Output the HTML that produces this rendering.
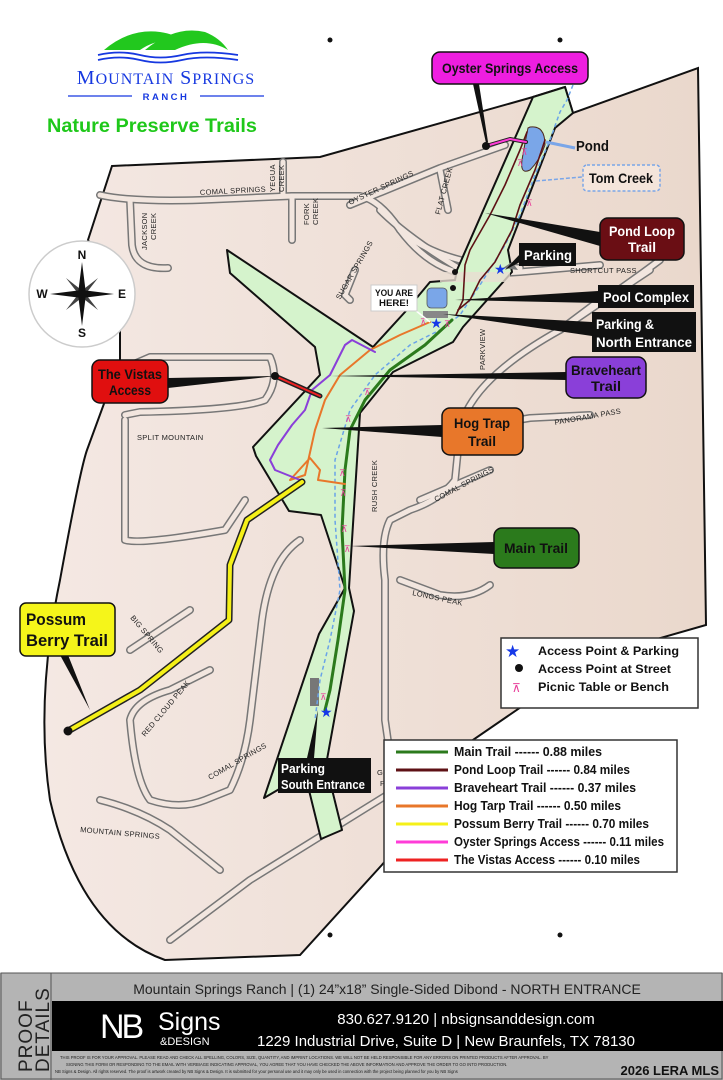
<!DOCTYPE html>
<html><head><meta charset="utf-8"><style>
html,body{margin:0;padding:0;background:#fff;}
svg{display:block;}
.n{font-family:"Liberation Sans Narrow","Liberation Sans",sans-serif;font-weight:bold;}
.s{font-family:"Liberation Sans",sans-serif;}
.rd{font-family:"Liberation Sans",sans-serif;font-size:7.5px;fill:#222;letter-spacing:.3px;}
</style></head><body>
<svg width="723" height="1080" viewBox="0 0 723 1080" xmlns="http://www.w3.org/2000/svg">
<defs>
<linearGradient id="tan" x1="0" x2="1" y1="0" y2="0">
<stop offset="0" stop-color="#f4e8e3"/><stop offset="1" stop-color="#ead8cc"/></linearGradient>
</defs>
<rect width="723" height="1080" fill="#fff"/>
<!-- logo -->
<path d="M104 50 Q130 28 160 32 Q175 34 185 42 Q160 36 140 50 Z" fill="#22c81e"/>
<path d="M145 50 Q175 25 205 32 Q220 38 228 50 Q205 36 175 50 Z" fill="#22c81e"/>
<path d="M98 55 Q120 50 140 55 T182 55 T238 55" stroke="#1638e0" stroke-width="1.8" fill="none"/>
<path d="M98 60 Q120 55 140 60 T182 60 T238 60" stroke="#1638e0" stroke-width="1.8" fill="none"/>
<text x="166" y="84" text-anchor="middle" font-family="Liberation Serif,serif" font-size="20" fill="#1638e0" letter-spacing="1">M<tspan font-size="16">OUNTAIN</tspan> S<tspan font-size="16">PRINGS</tspan></text>
<line x1="68" y1="96" x2="132" y2="96" stroke="#1638e0" stroke-width="1.2"/>
<line x1="200" y1="96" x2="264" y2="96" stroke="#1638e0" stroke-width="1.2"/>
<text x="166" y="100" text-anchor="middle" class="s" font-weight="bold" font-size="9.5" fill="#1638e0" letter-spacing="2.5">RANCH</text>
<text x="152" y="132" text-anchor="middle" class="s" font-weight="bold" font-size="19" fill="#1fc81a" textLength="210" lengthAdjust="spacingAndGlyphs">Nature Preserve Trails</text>
<circle cx="330" cy="40" r="2.5" fill="#111"/><circle cx="560" cy="40" r="2.5" fill="#111"/>
<circle cx="330" cy="935" r="2.5" fill="#111"/><circle cx="560" cy="935" r="2.5" fill="#111"/>
<!-- tan area -->
<path d="M112 166 L320 157 L533 97 L565 87 L573 113 L698 68 L706 625 L594 657 L400 790 L400 845 L300 955 L165 960 Q80 930 50 800 Q35 700 60 580 Q80 470 87 450 L120 360 L120 300 L88 240 Z" fill="url(#tan)" stroke="#111" stroke-width="2"/>
<!-- roads -->
<g fill="none" stroke-linecap="round" stroke-linejoin="round">
<g stroke="#777" stroke-width="8">
<path d="M100 195 Q130 202 200 200 L292 196 L360 196 Q380 200 400 230 Q430 270 470 275 L520 272 L600 265"/>
<path d="M292 196 L292 240"/><path d="M283 162 L283 195"/><path d="M130 200 L132 245 Q135 270 168 268"/>
<path d="M350 205 L440 168 L505 145"/><path d="M440 170 L448 210"/><path d="M380 210 Q410 240 470 275"/>
<path d="M355 270 L345 295 L350 300"/>
<path d="M120 370 L150 357 L270 357 Q280 380 265 400 Q240 410 140 412 L125 415"/>
<path d="M125 420 L125 540 Q140 545 225 530 L245 500"/>
<path d="M660 260 Q620 290 560 330 Q470 380 460 430 L455 480 Q440 500 410 510 L390 520 Q380 540 385 580 L385 720 L395 790"/>
<path d="M560 330 L600 300"/><path d="M620 290 L650 270"/>
<path d="M460 430 L530 418 L590 415"/>
<path d="M420 500 L490 470"/>
<path d="M400 580 L440 595 Q470 600 490 585"/>
<path d="M395 790 L250 880 L170 940"/>
<path d="M300 540 Q270 560 262 620 L250 720 Q245 760 230 790 L205 800 Q180 810 150 800 Q135 780 130 720 Q135 700 170 690 L210 670"/>
<path d="M130 650 L190 610"/>
<path d="M400 230 Q440 265 520 268"/>
<path d="M100 800 Q140 810 170 830 L220 870"/>
</g>
<g stroke="#f2e6df" stroke-width="5">
<path d="M100 195 Q130 202 200 200 L292 196 L360 196 Q380 200 400 230 Q430 270 470 275 L520 272 L600 265"/>
<path d="M292 196 L292 240"/><path d="M283 162 L283 195"/><path d="M130 200 L132 245 Q135 270 168 268"/>
<path d="M350 205 L440 168 L505 145"/><path d="M440 170 L448 210"/><path d="M380 210 Q410 240 470 275"/>
<path d="M355 270 L345 295 L350 300"/>
<path d="M120 370 L150 357 L270 357 Q280 380 265 400 Q240 410 140 412 L125 415"/>
<path d="M125 420 L125 540 Q140 545 225 530 L245 500"/>
<path d="M660 260 Q620 290 560 330 Q470 380 460 430 L455 480 Q440 500 410 510 L390 520 Q380 540 385 580 L385 720 L395 790"/>
<path d="M560 330 L600 300"/><path d="M620 290 L650 270"/>
<path d="M460 430 L530 418 L590 415"/>
<path d="M420 500 L490 470"/>
<path d="M400 580 L440 595 Q470 600 490 585"/>
<path d="M395 790 L250 880 L170 940"/>
<path d="M300 540 Q270 560 262 620 L250 720 Q245 760 230 790 L205 800 Q180 810 150 800 Q135 780 130 720 Q135 700 170 690 L210 670"/>
<path d="M130 650 L190 610"/>
<path d="M400 230 Q440 265 520 268"/>
<path d="M100 800 Q140 810 170 830 L220 870"/>
</g>
</g>
<!-- road labels -->
<text class="rd" x="200" y="195" transform="rotate(-3 200 195)">COMAL SPRINGS</text>
<text class="rd" x="350" y="205" transform="rotate(-25 350 205)">OYSTER SPRINGS</text>
<text class="rd" x="570" y="273">SHORTCUT PASS</text>
<text class="rd" x="137" y="440">SPLIT MOUNTAIN</text>
<text class="rd" x="555" y="425" transform="rotate(-10 555 425)">PANORAMA PASS</text>
<text class="rd" x="436" y="502" transform="rotate(-28 436 502)">COMAL SPRINGS</text>
<text class="rd" x="412" y="595" transform="rotate(12 412 595)">LONGS PEAK</text>
<text class="rd" x="377" y="775">GRAYS</text><text class="rd" x="380" y="786">PEAK</text>
<text class="rd" x="80" y="832" transform="rotate(5 80 832)">MOUNTAIN SPRINGS</text>
<text class="rd" x="210" y="780" transform="rotate(-30 210 780)">COMAL SPRINGS</text>
<text class="rd" x="145" y="737" transform="rotate(-50 145 737)">RED CLOUD PEAK</text>
<text class="rd" x="130" y="618" transform="rotate(50 130 618)">BIG SPRING</text>
<text class="rd" x="377" y="512" transform="rotate(-90 377 512)">RUSH CREEK</text>
<text class="rd" x="485" y="370" transform="rotate(-90 485 370)">PARKVIEW</text>
<text class="rd" x="340" y="300" transform="rotate(-60 340 300)">SUGAR SPRINGS</text>
<text class="rd" x="440" y="215" transform="rotate(-75 440 215)">FLAT CREEK</text>
<text class="rd" x="309" y="225" transform="rotate(-90 309 225)">FORK</text><text class="rd" x="318" y="225" transform="rotate(-90 318 225)">CREEK</text>
<text class="rd" x="275" y="192" transform="rotate(-90 275 192)">YEGUA</text><text class="rd" x="284" y="192" transform="rotate(-90 284 192)">CREEK</text>
<text class="rd" x="147" y="250" transform="rotate(-90 147 250)">JACKSON</text><text class="rd" x="156" y="240" transform="rotate(-90 156 240)">CREEK</text>
<!-- green preserve -->
<path d="M533 97 L565 87 L573 113 L555 128 L508 250 L512 272 L463 327 L453 342 L393 372 L360 413 L349 588 L354 611 L326 765 L342 830 L321 839 L305 774 L264 798 L319 634 L345 588 L321 515 L289 511 L256 456 L253 447 L320 375 L315 347 L230 273 L227 250 L373 347 L405 312 L430 282 L455 280 L457 270 Z" fill="#d5f3cc" stroke="#111" stroke-width="2" stroke-linejoin="round"/>
<rect x="440" y="272" width="70" height="10" fill="#e8ddd2" opacity=".8"/>
<!-- pond & pool -->
<path d="M530 127 Q545 125 545 145 Q540 160 530 170 Q520 175 522 160 Q524 148 528 128 Z" fill="#7aa6e8" stroke="#4d2a1d" stroke-width="1"/>
<rect x="427" y="288" width="20" height="20" rx="4" fill="#7aa6e8" stroke="#555" stroke-width=".8"/>
<rect x="423" y="311" width="25" height="7" fill="#888"/>
<rect x="310" y="678" width="9" height="28" fill="#777"/>
<path d="M503 268 L512 262 L518 270 Z" fill="#777"/>
<!-- creek -->
<path d="M573 85 L567 100 L560 112 L550 140 L535 175 L520 215 L505 245 L480 285 L460 315 L440 330 L410 345 L375 375 L350 410 L335 460 L335 520 L340 590 L330 640 L320 680 L315 720" fill="none" stroke="#6aa3e8" stroke-width="1.5" stroke-dasharray="4 3"/>
<!-- trails -->
<g fill="none" stroke-linejoin="round" stroke-linecap="round">
<path d="M527 132 L520 150 L505 185 L490 215 L470 250 L465 265 L463 300 L456 315" stroke="#5e1115" stroke-width="1.6"/>
<path d="M545 140 L535 170 L520 205 L512 230 L495 262 L480 280 L470 300 L458 310" stroke="#5e1115" stroke-width="1.6"/>
<path d="M452 320 L425 345 L390 370 L365 400 L350 430 L345 470 L342 530 L345 590 L338 640 L330 690 L325 710" stroke="#2b7a1c" stroke-width="3"/>
<path d="M430 322 L400 335 L370 350 L340 375 L325 400 L315 430 L305 475 L290 480 L310 458 L320 470 L318 480 L345 484" stroke="#e8772a" stroke-width="2"/>
<path d="M375 352 L352 340 L345 345 L330 375 L312 390 L305 410 L292 425 L278 445 L270 460 L275 470 L300 480" stroke="#8a3fd9" stroke-width="2"/>
<path d="M302 482 L247 520 L230 565 L229 620 L140 690 L68 731" stroke="#222" stroke-width="7"/>
<path d="M302 482 L247 520 L230 565 L229 620 L140 690 L68 731" stroke="#f5f018" stroke-width="4"/>
<path d="M275 376 L320 396" stroke="#222" stroke-width="5"/>
<path d="M275 376 L320 396" stroke="#ee2222" stroke-width="2"/>
<path d="M486 146 L510 139 L526 142" stroke="#222" stroke-width="4"/>
<path d="M486 146 L510 139 L526 142" stroke="#ff3cd8" stroke-width="2"/>
</g>
<circle cx="486" cy="146" r="4" fill="#111"/><circle cx="275" cy="376" r="4" fill="#111"/><circle cx="68" cy="731" r="4.5" fill="#111"/>
<circle cx="455" cy="272" r="3" fill="#111"/><circle cx="453" cy="288" r="3" fill="#111"/>
<g fill="#e8409a" font-size="9" class="s"><text x="521" y="155">⊼</text><text x="517" y="166">⊼</text><text x="526" y="206">⊼</text><text x="420" y="325">⊼</text><text x="444" y="327">⊼</text><text x="364" y="395">⊼</text><text x="345" y="422">⊼</text><text x="339" y="476">⊼</text><text x="340" y="496">⊼</text><text x="341" y="532">⊼</text><text x="344" y="552">⊼</text><text x="320" y="700">⊼</text></g>
<g fill="#1638e8" class="s" font-size="14"><text x="494" y="274">★</text><text x="430" y="328">★</text><text x="320" y="717">★</text></g>
<!-- leaders -->
<g fill="#111">
<path d="M473 84 L479 84 L488 142 L486 143 Z"/>
<path d="M600 232 L600 246 L485 213 Z"/>
<path d="M520 254 L520 262 L505 270 Z"/>
<path d="M598 291 L598 303 L455 300 Z"/>
<path d="M592 322 L592 336 L443 314 Z"/>
<path d="M566 372 L566 380 L330 376 Z"/>
<path d="M442 425 L442 437 L322 428 Z"/>
<path d="M494 542 L494 554 L350 546 Z"/>
<path d="M168 378 L168 388 L276 376 Z"/>
<path d="M60 655 L68 655 L90 710 Z"/>
<path d="M307 758 L314 758 L318 710 Z"/>
</g>
<path d="M546 142 L575 148" stroke="#7aa6e8" stroke-width="3"/>
<path d="M536 181 L582 177" stroke="#7aa6e8" stroke-width="1.5" stroke-dasharray="4 2"/>
<line x1="410" y1="306" x2="430" y2="322" stroke="#fff" stroke-width="1.5"/>
<!-- compass -->
<circle cx="82" cy="294" r="53" fill="#fff" stroke="#ccc" stroke-width="1.5"/>
<g fill="#111"><path d="M82 262 L86 294 L82 326 L78 294 Z"/><path d="M50 294 L82 290 L114 294 L82 298 Z"/>
<path d="M66 278 L84 292 L98 310 L80 296 Z" opacity=".8"/><path d="M98 278 L84 296 L66 310 L80 292 Z" opacity=".8"/></g>
<g class="s" font-weight="bold" font-size="12" fill="#111" text-anchor="middle"><text x="82" y="259">N</text><text x="82" y="337">S</text><text x="42" y="298">W</text><text x="122" y="298">E</text></g>
<!-- callout boxes -->
<g class="n" font-size="14" text-anchor="middle" lengthAdjust="spacingAndGlyphs">
<rect x="432" y="52" width="156" height="32" rx="8" fill="#ee1ee0" stroke="#111" stroke-width="1.5"/><text x="510" y="73" fill="#111" textLength="136" lengthAdjust="spacingAndGlyphs">Oyster Springs Access</text>
<text x="576" y="151" text-anchor="start" fill="#111" font-size="15" textLength="33" lengthAdjust="spacingAndGlyphs">Pond</text>
<rect x="583" y="165" width="77" height="26" rx="4" fill="#f4e5db" stroke="#7aa6e8" stroke-width="1.5" stroke-dasharray="3 2"/><text x="621" y="183" fill="#111" textLength="64" lengthAdjust="spacingAndGlyphs">Tom Creek</text>
<rect x="600" y="218" width="84" height="42" rx="8" fill="#6a0e14" stroke="#111" stroke-width="1.5"/><text x="642" y="236" fill="#fff" textLength="66" lengthAdjust="spacingAndGlyphs">Pond Loop</text><text x="642" y="252" fill="#fff" textLength="28" lengthAdjust="spacingAndGlyphs">Trail</text>
<rect x="519" y="243" width="57" height="23" fill="#111"/><text x="548" y="260" fill="#fff" textLength="48" lengthAdjust="spacingAndGlyphs">Parking</text>
<rect x="371" y="285" width="46" height="26" fill="#fff" stroke="#ccc"/><text x="394" y="296" fill="#111" font-size="9" textLength="38" lengthAdjust="spacingAndGlyphs">YOU ARE</text><text x="394" y="306" fill="#111" font-size="9" textLength="30" lengthAdjust="spacingAndGlyphs">HERE!</text>
<rect x="598" y="285" width="96" height="23" fill="#111"/><text x="646" y="302" fill="#fff" textLength="86" lengthAdjust="spacingAndGlyphs">Pool Complex</text>
<rect x="592" y="312" width="104" height="40" fill="#111"/><text x="596" y="329" text-anchor="start" fill="#fff" textLength="58" lengthAdjust="spacingAndGlyphs">Parking &amp;</text><text x="596" y="347" text-anchor="start" fill="#fff" textLength="96" lengthAdjust="spacingAndGlyphs">North Entrance</text>
<rect x="92" y="360" width="76" height="43" rx="8" fill="#e00f0f" stroke="#111" stroke-width="1.5"/><text x="130" y="379" fill="#111" textLength="64" lengthAdjust="spacingAndGlyphs">The Vistas</text><text x="130" y="395" fill="#111" textLength="42" lengthAdjust="spacingAndGlyphs">Access</text>
<rect x="566" y="357" width="80" height="41" rx="8" fill="#8a3fd9" stroke="#111" stroke-width="1.5"/><text x="606" y="375" fill="#111" textLength="70" lengthAdjust="spacingAndGlyphs">Braveheart</text><text x="606" y="391" fill="#111" textLength="30" lengthAdjust="spacingAndGlyphs">Trail</text>
<rect x="442" y="408" width="81" height="47" rx="8" fill="#e8772a" stroke="#111" stroke-width="1.5"/><text x="482" y="428" fill="#111" textLength="56" lengthAdjust="spacingAndGlyphs">Hog Trap</text><text x="482" y="446" fill="#111" textLength="28" lengthAdjust="spacingAndGlyphs">Trail</text>
<rect x="494" y="528" width="85" height="40" rx="8" fill="#2b7a1c" stroke="#111" stroke-width="1.5"/><text x="536" y="553" fill="#111" textLength="64" lengthAdjust="spacingAndGlyphs">Main Trail</text>
<rect x="20" y="603" width="95" height="53" rx="6" fill="#f5f51a" stroke="#111" stroke-width="1.5"/><text x="26" y="625" text-anchor="start" fill="#111" font-size="17" textLength="60" lengthAdjust="spacingAndGlyphs">Possum</text><text x="26" y="646" text-anchor="start" fill="#111" font-size="17" textLength="82" lengthAdjust="spacingAndGlyphs">Berry Trail</text>
<rect x="278" y="758" width="93" height="35" fill="#111"/><text x="281" y="773" text-anchor="start" fill="#fff" font-size="12.5" textLength="44" lengthAdjust="spacingAndGlyphs">Parking</text><text x="281" y="789" text-anchor="start" fill="#fff" font-size="12.5" textLength="84" lengthAdjust="spacingAndGlyphs">South Entrance</text>
</g>
<!-- legends -->
<rect x="501" y="638" width="197" height="70" fill="#fff" stroke="#333" stroke-width="1.5"/>
<text x="505" y="657" font-size="17" fill="#1638e8" class="s">★</text>
<circle cx="519" cy="668" r="4" fill="#111"/>
<text x="512" y="692" font-size="12" fill="#e8409a" class="s">⊼</text>
<g class="s" font-weight="bold" font-size="11.5" fill="#111"><text x="538" y="655" textLength="141" lengthAdjust="spacingAndGlyphs">Access Point &amp; Parking</text><text x="538" y="673" textLength="133" lengthAdjust="spacingAndGlyphs">Access Point at Street</text><text x="538" y="691" textLength="131" lengthAdjust="spacingAndGlyphs">Picnic Table or Bench</text></g>
<rect x="384" y="740" width="293" height="132" fill="#fff" stroke="#333" stroke-width="1.5"/>
<g stroke-width="3"><line x1="396" y1="752" x2="448" y2="752" stroke="#2b7a1c"/><line x1="396" y1="770" x2="448" y2="770" stroke="#5e1115"/><line x1="396" y1="788" x2="448" y2="788" stroke="#8a3fd9"/><line x1="396" y1="806" x2="448" y2="806" stroke="#e8772a"/><line x1="396" y1="824" x2="448" y2="824" stroke="#f5f018"/><line x1="396" y1="842" x2="448" y2="842" stroke="#ff3cd8"/><line x1="396" y1="860" x2="448" y2="860" stroke="#ee2222"/></g>
<g class="n" font-size="12.5" fill="#111"><text x="454" y="756" textLength="148" lengthAdjust="spacingAndGlyphs">Main Trail ------ 0.88 miles</text><text x="454" y="774" textLength="176" lengthAdjust="spacingAndGlyphs">Pond Loop Trail ------ 0.84 miles</text><text x="454" y="792" textLength="182" lengthAdjust="spacingAndGlyphs">Braveheart Trail ------ 0.37 miles</text><text x="454" y="810" textLength="167" lengthAdjust="spacingAndGlyphs">Hog Tarp Trail ------ 0.50 miles</text><text x="454" y="828" textLength="195" lengthAdjust="spacingAndGlyphs">Possum Berry Trail ------ 0.70 miles</text><text x="454" y="846" textLength="210" lengthAdjust="spacingAndGlyphs">Oyster Springs Access ------ 0.11 miles</text><text x="454" y="864" textLength="186" lengthAdjust="spacingAndGlyphs">The Vistas Access ------ 0.10 miles</text></g>
<!-- footer -->
<rect x="0" y="973" width="723" height="107" fill="#b4b4b4"/>
<rect x="1" y="973" width="721" height="106" fill="none" stroke="#555" stroke-width="1"/>
<line x1="51" y1="973" x2="51" y2="1080" stroke="#555"/>
<text transform="translate(32 1072) rotate(-90)" class="s" font-size="19" fill="#222" letter-spacing="1">PROOF</text>
<text transform="translate(49 1072) rotate(-90)" class="s" font-size="19" fill="#222" letter-spacing="1">DETAILS</text>
<text x="387" y="994" text-anchor="middle" class="s" font-size="14" fill="#222">Mountain Springs Ranch | (1) 24”x18” Single-Sided Dibond - NORTH ENTRANCE</text>
<rect x="52" y="1001" width="671" height="50" fill="#000"/>
<text x="100" y="1038" class="s" font-size="34" fill="#fff" font-weight="normal" letter-spacing="-3">NB</text>
<text x="158" y="1030" class="s" font-size="25" fill="#fff">Signs</text>
<text x="160" y="1045" class="s" font-size="11" fill="#fff">&amp;DESIGN</text>
<text x="466" y="1024" text-anchor="middle" class="s" font-size="15" fill="#fff">830.627.9120 | nbsignsanddesign.com</text>
<text x="446" y="1046" text-anchor="middle" class="s" font-size="15" fill="#fff">1229 Industrial Drive, Suite D | New Braunfels, TX 78130</text>
<g class="s" font-size="4.2" fill="#222"><text x="60" y="1059">THIS PROOF IS FOR YOUR APPROVAL. PLEASE READ AND CHECK ALL SPELLING, COLORS, SIZE, QUANTITY, AND IMPRINT LOCATIONS. WE WILL NOT BE HELD RESPONSIBLE FOR ANY ERRORS ON PRINTED PRODUCTS AFTER APPROVAL. BY</text>
<text x="66" y="1066">SIGNING THIS FORM OR RESPONDING TO THE EMAIL WITH VERBIAGE INDICATING APPROVAL, YOU AGREE THAT YOU HAVE CHECKED THE ABOVE INFORMATION AND APPROVE THE ORDER TO GO INTO PRODUCTION.</text>
<text x="55" y="1073">NB Signs &amp; Design. All rights reserved. The proof is artwork created by NB Signs &amp; Design. It is submitted for your personal use and it may only be used in connection with the project being planned for you by NB Signs</text></g>
<text x="719" y="1075" text-anchor="end" class="s" font-weight="bold" font-size="13" fill="#111">2026 LERA MLS</text>
</svg>
</body></html>
